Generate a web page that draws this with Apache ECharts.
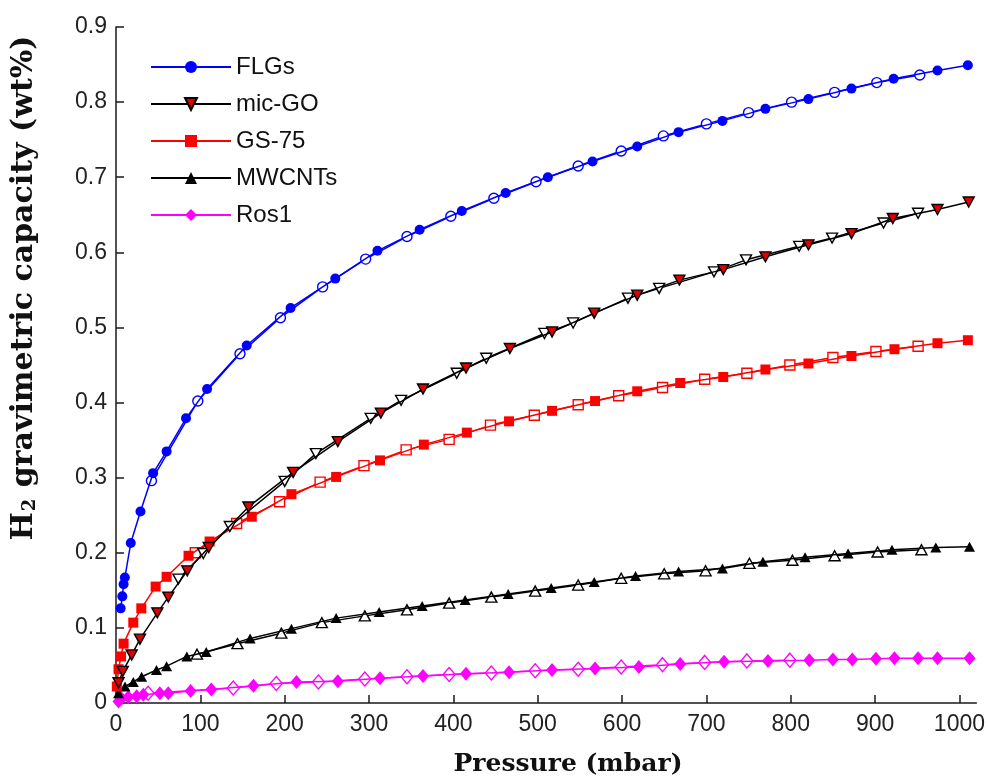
<!DOCTYPE html>
<html>
<head>
<meta charset="utf-8">
<script src="https://cdn.jsdelivr.net/npm/echarts@6/dist/echarts.min.js"></script>
<style>
  html, body { margin: 0; padding: 0; background: #fff; }
  #chart { width: 988px; height: 778px; }
</style>
</head>
<body>
<div id="chart"></div>
<script>
// Hydrogen uptake isotherms: [pressure (mbar), capacity (wt%)]
// "Ads" = adsorption branch (filled markers), "Des" = desorption branch (open markers)
const flgsAds = [[5.5,0.126],[7.5,0.142],[9,0.158],[10.5,0.167],[17.5,0.213],[29,0.255],[44,0.306],[60,0.335],[83,0.379],[108,0.418],[155,0.476],[207,0.526],[260,0.565],[310,0.602],[360,0.630],[410,0.655],[462,0.679],[512,0.700],[565,0.721],[618,0.741],[667,0.760],[719,0.775],[770,0.791],[821,0.804],[872,0.818],[922,0.831],[974,0.842],[1010,0.849]];
const flgsDes = [[42,0.296],[97,0.402],[147,0.465],[195,0.513],[245,0.554],[296,0.591],[345,0.621],[397,0.648],[448,0.672],[498,0.694],[548,0.715],[599,0.735],[649,0.755],[700,0.771],[750,0.786],[801,0.800],[852,0.813],[902,0.826],[953,0.836]];

const micGoAds = [[3,0.027],[8,0.042],[18.6,0.064],[28.4,0.085],[49,0.120],[62,0.141],[84.5,0.176],[110,0.207],[157,0.261],[210,0.307],[263,0.348],[314,0.386],[364,0.418],[415,0.446],[467,0.472],[517,0.494],[567,0.519],[618,0.543],[668,0.563],[720,0.577],[770,0.594],[821,0.610],[872,0.625],[921,0.645],[974,0.657],[1011,0.667]];
const micGoDes = [[74,0.165],[103.5,0.199],[135,0.235],[200,0.295],[237,0.332],[302,0.379],[338,0.403],[404,0.439],[439,0.459],[508,0.492],[542,0.506],[607,0.539],[644,0.552],[709,0.574],[747,0.590],[810,0.608],[849,0.619],[910,0.639],[951,0.652]];

const gs75Ads = [[1,0.022],[3,0.045],[6,0.062],[9,0.079],[20.5,0.107],[30,0.126],[47,0.155],[60,0.168],[86,0.196],[111,0.215],[161,0.248],[208,0.278],[261,0.301],[313,0.323],[365,0.344],[416,0.360],[466,0.375],[517,0.389],[568,0.402],[618,0.415],[669,0.426],[720,0.434],[770,0.444],[821,0.452],[872,0.462],[923,0.471],[974,0.479],[1010,0.483]];
const gs75Des = [[94,0.200],[143,0.239],[194,0.268],[242,0.294],[294,0.316],[344,0.337],[395,0.351],[444,0.370],[496,0.383],[548,0.397],[596,0.409],[648,0.420],[698,0.431],[748,0.439],[799,0.450],[850,0.460],[901,0.468],[951,0.475]];

const mwcntsAds = [[3,0.013],[10.7,0.022],[20.5,0.028],[30.4,0.035],[48,0.044],[60,0.049],[84,0.062],[107,0.068],[159,0.086],[208,0.099],[261,0.113],[312,0.121],[363,0.129],[414,0.137],[465,0.145],[516,0.153],[567,0.161],[616,0.169],[667,0.175],[719,0.179],[767,0.188],[817,0.194],[868,0.199],[920,0.204],[972,0.207],[1012,0.208]];
const mwcntsDes = [[96,0.065],[144,0.079],[196,0.093],[244,0.107],[295,0.116],[345,0.124],[395,0.133],[445,0.141],[497,0.149],[548,0.157],[599,0.166],[650,0.172],[699,0.176],[751,0.186],[802,0.190],[852,0.196],[903,0.201],[955,0.204]];

const ros1Ads = [[3,0.002],[6.7,0.006],[14.6,0.008],[24.5,0.009],[32.4,0.011],[52,0.013],[62,0.013],[88.5,0.016],[113,0.018],[163,0.023],[214,0.028],[263,0.029],[313,0.033],[364,0.036],[415,0.039],[466,0.041],[517,0.044],[568,0.046],[620,0.048],[669,0.052],[721,0.055],[773,0.056],[822,0.057],[850,0.058],[873,0.058],[901,0.059],[923,0.0595],[951,0.0595],[974,0.0595],[1012,0.0595]];
const ros1Des = [[38,0.013],[139,0.020],[190,0.026],[240,0.028],[295,0.032],[345,0.035],[395,0.038],[445,0.040],[497,0.043],[548,0.045],[599,0.048],[648,0.051],[698,0.054],[748,0.056],[799,0.057]];

const materials = ['FLGs', 'mic-GO', 'GS-75', 'MWCNTs', 'Ros1'];
const xTicks = [0, 100, 200, 300, 400, 500, 600, 700, 800, 900, 1000];

const downTriangle = 'path://M0,0L10,0L5,10Z';

// one open series (desorption) and one filled series (adsorption) per material
function pair(name, ads, des, opt) {
  const base = {
    type: 'line',
    symbol: opt.symbol,
    symbolSize: opt.size,
    lineStyle: { color: opt.line, width: 1.5 },
    emphasis: { disabled: true },
    animation: false
  };
  return [
    Object.assign({}, base, {
      name: name + ' (desorption)',
      data: des,
      z: opt.z,
      itemStyle: { color: '#ffffff', borderColor: opt.openBorder, borderWidth: 1.4 }
    }),
    Object.assign({}, base, {
      name: name,
      data: ads,
      z: opt.z + 1,
      itemStyle: { color: opt.fill, borderColor: opt.border, borderWidth: opt.border === opt.fill ? 0 : 1.4 }
    })
  ];
}

const series = [].concat(
  pair('Ros1', ros1Ads, ros1Des, { symbol: 'diamond', size: [12, 14], line: '#ff00ff', fill: '#ff00ff', border: '#ff00ff', openBorder: '#ff00ff', z: 2 }),
  pair('MWCNTs', mwcntsAds, mwcntsDes, { symbol: 'triangle', size: [11, 10], line: '#000000', fill: '#000000', border: '#000000', openBorder: '#000000', z: 4 }),
  pair('GS-75', gs75Ads, gs75Des, { symbol: 'rect', size: 10, line: '#ff0000', fill: '#ff0000', border: '#ff0000', openBorder: '#ff0000', z: 6 }),
  pair('mic-GO', micGoAds, micGoDes, { symbol: downTriangle, size: [11, 10], line: '#000000', fill: '#e00000', border: '#000000', openBorder: '#000000', z: 8 }),
  pair('FLGs', flgsAds, flgsDes, { symbol: 'circle', size: 10, line: '#0000ff', fill: '#0000ff', border: '#0000ff', openBorder: '#0000ff', z: 10 })
);

const chart = echarts.init(document.getElementById('chart'), null, { renderer: 'canvas' });

const axisColor = '#1a1a1a';
const tickFont = { fontFamily: 'Liberation Sans, Arial, sans-serif', fontSize: 23, color: '#222' };
const titleFont = 'DejaVu Serif, serif';

chart.setOption({
  backgroundColor: '#ffffff',
  animation: false,
  grid: { left: 116, right: 10, top: 27, bottom: 75, containLabel: false },
  legend: {
    data: materials,
    orient: 'vertical',
    left: 150,
    top: 55,
    padding: 0,
    itemWidth: 80,
    itemHeight: 15,
    itemGap: 13,
    selectedMode: false,
    textStyle: { fontFamily: 'Liberation Sans, Arial, sans-serif', fontSize: 24, color: '#111' }
  },
  xAxis: {
    type: 'value',
    min: 0,
    max: 1020,
    axisLine: { show: true, lineStyle: { color: axisColor, width: 1.5 } },
    axisTick: { show: true, inside: true, length: 8, customValues: xTicks, lineStyle: { color: axisColor, width: 1.5 } },
    axisLabel: Object.assign({ customValues: xTicks, margin: 10, formatter: v => String(v) }, tickFont),
    splitLine: { show: false }
  },
  yAxis: {
    type: 'value',
    min: 0,
    max: 0.9,
    interval: 0.1,
    axisLine: { show: true, lineStyle: { color: axisColor, width: 1.5 } },
    axisTick: { show: true, inside: true, length: 8, lineStyle: { color: axisColor, width: 1.5 } },
    axisLabel: Object.assign({ margin: 9, formatter: v => String(+v.toFixed(1)) }, tickFont),
    splitLine: { show: false }
  },
  graphic: [
    {
      type: 'text',
      x: 568,
      y: 764,
      style: {
        text: 'Pressure (mbar)',
        fontFamily: titleFont,
        fontWeight: 'bold',
        fontSize: 25,
        fill: '#111',
        align: 'center',
        verticalAlign: 'middle'
      }
    },
    {
      type: 'text',
      x: 24,
      y: 288,
      rotation: Math.PI / 2,
      style: {
        text: '{m|H}{s|2}{m| gravimetric capacity (wt%)}',
        align: 'center',
        verticalAlign: 'middle',
        fill: '#111',
        rich: {
          m: { fontFamily: titleFont, fontWeight: 'bold', fontSize: 30, fill: '#111' },
          s: { fontFamily: titleFont, fontWeight: 'bold', fontSize: 18, fill: '#111', verticalAlign: 'bottom', padding: [9, 1, 0, 1] }
        }
      }
    }
  ],
  series: series
});
</script>
</body>
</html>
